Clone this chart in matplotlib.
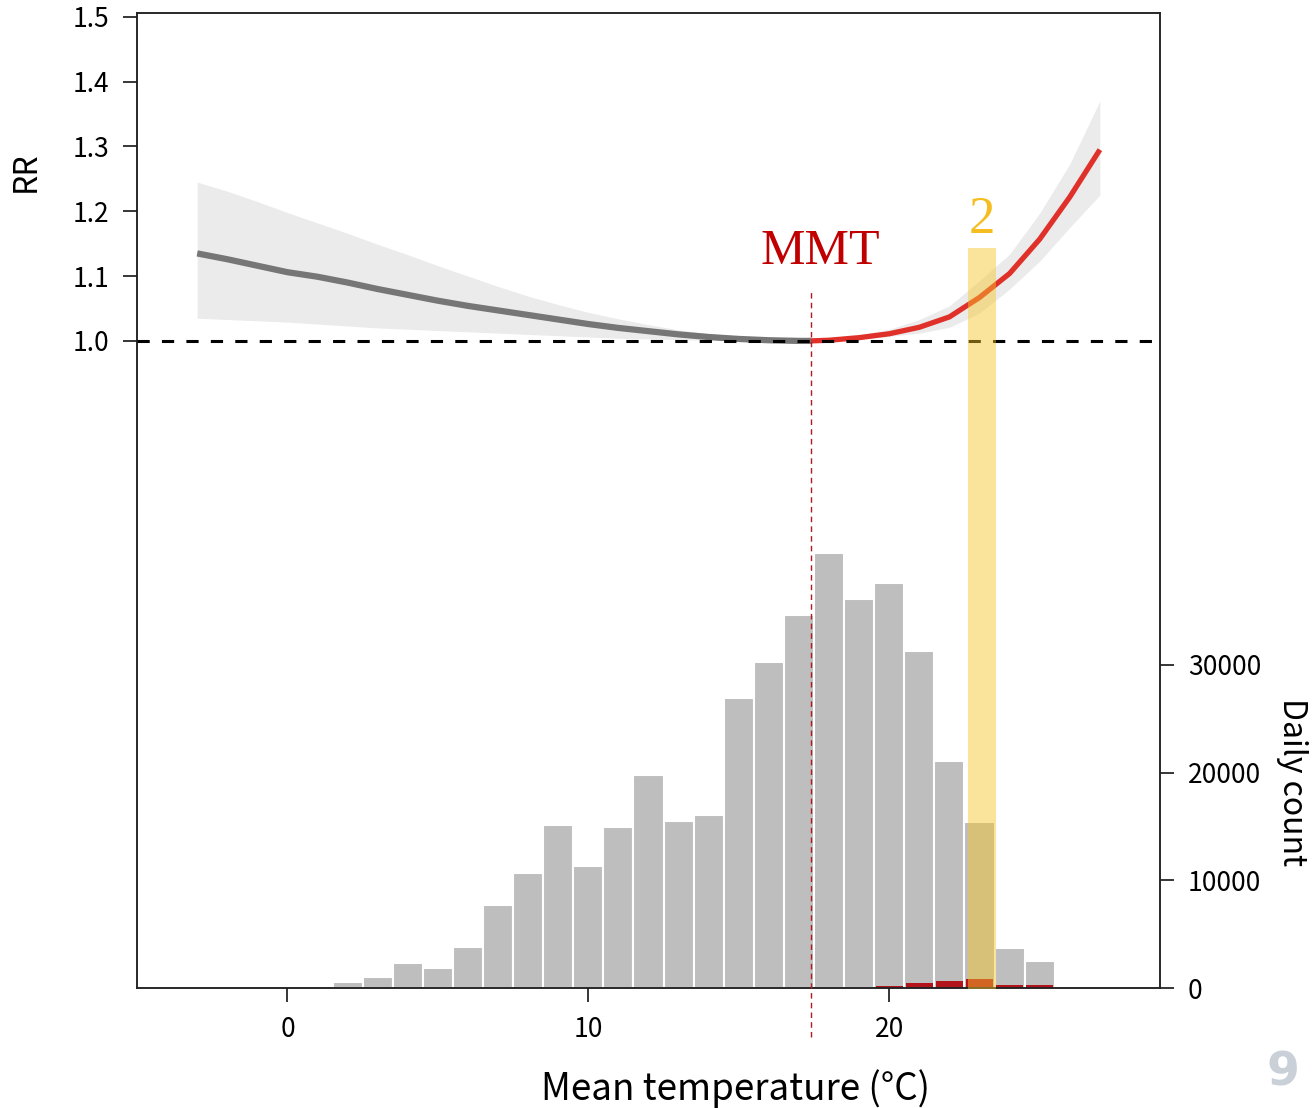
import matplotlib
matplotlib.use("Agg")
import matplotlib.pyplot as plt

plt.rcParams["font.family"] = ["Noto Sans CJK SC", "DejaVu Sans"]

# exposure-response curve (RR) with confidence band
temp = [-3, -2, -1, 0, 1, 2, 3, 4, 5, 6, 7, 8, 9, 10, 11, 12, 13, 14, 15, 16, 17, 17.4,
        18, 19, 20, 21, 22, 23, 24, 25, 26, 27]
rr = [1.135, 1.126, 1.116, 1.106, 1.099, 1.090, 1.080, 1.071, 1.062, 1.054, 1.047, 1.040,
      1.033, 1.026, 1.020, 1.015, 1.010, 1.006, 1.003, 1.001, 1.000, 1.000,
      1.001, 1.005, 1.011, 1.021, 1.037, 1.067, 1.104, 1.157, 1.222, 1.295]
rr_low = [1.035, 1.033, 1.031, 1.029, 1.026, 1.023, 1.020, 1.018, 1.016, 1.014, 1.012, 1.010,
          1.008, 1.006, 1.004, 1.003, 1.002, 1.001, 1.000, 1.000, 1.000, 1.000,
          1.000, 1.003, 1.007, 1.012, 1.021, 1.043, 1.080, 1.123, 1.175, 1.225]
rr_high = [1.245, 1.231, 1.215, 1.198, 1.182, 1.166, 1.149, 1.133, 1.116, 1.100, 1.084, 1.069,
           1.056, 1.044, 1.034, 1.025, 1.017, 1.011, 1.006, 1.003, 1.000, 1.000,
           1.002, 1.009, 1.018, 1.033, 1.054, 1.093, 1.134, 1.197, 1.273, 1.370]
mmt = 17.4

# daily count histogram
bins = list(range(1, 26))
counts = [200, 600, 1000, 2300, 1900, 3800, 7700, 10700, 15100, 11300, 14900, 19800, 15500,
          16100, 26900, 30300, 34600, 40400, 36100, 37600, 31300, 21100, 15400, 3700, 2500]
hot_bins = [20, 21, 22, 23, 24, 25]
hot_counts = [210, 490, 620, 840, 280, 250]

# highlighted band
band_x = (22.62, 23.55)
band_top = 1.143

fig = plt.figure(figsize=(13.16, 11.08), dpi=100)
ax = fig.add_axes([0.1041, 0.1083, 0.7774, 0.8800])
ax2 = ax.twinx()
ax.set_zorder(ax2.get_zorder() + 1)
ax.patch.set_visible(False)

# histogram on right axis
ax2.bar(bins, counts, width=1.0, color="#bebebe", edgecolor="white", linewidth=1.5)
ax2.bar(hot_bins, hot_counts, width=0.9, color="#b2141c", linewidth=0)
ax2.set_ylim(0, 90500)
ax2.set_yticks([0, 10000, 20000, 30000])
ax2.tick_params(axis="y", length=10, width=1.1, labelsize=19, pad=10)
ax2.set_ylabel("Daily count", fontsize=23, rotation=270, labelpad=0)
ax2.yaxis.set_label_coords(1.1447, 0.211)

# RR curve
ax.fill_between(temp, rr_low, rr_high, color="#ebebeb", linewidth=0)
i = temp.index(mmt)
ax.plot(temp[:i + 1], rr[:i + 1], color="#767676", lw=4.5, solid_capstyle="butt")
ax.plot(temp[i:], rr[i:], color="#e0302a", lw=3.8, solid_capstyle="butt")
ax.axhline(1.0, color="black", lw=2.2, ls=(0, (4, 4)), zorder=5)
ax.axvline(mmt, ymin=-0.05, ymax=(1.0756 - 0.0015) / 1.5045, color="#b3191f", lw=1.0,
           ls=(0, (4, 3)), clip_on=False, zorder=4)

ax.fill_between(band_x, 0, band_top, color="#f6c628", alpha=0.46, linewidth=0, zorder=6)
ax.text(sum(band_x) / 2, 1.167, "2", color="#f5bd1f", fontsize=38,
        family="Liberation Serif", ha="center", va="baseline")
ax.text(17.71, 1.119, "MMT", color="#c00000", fontsize=36,
        family="Liberation Serif", ha="center", va="baseline")

ax.set_xlim(-5, 29)
ax.set_ylim(0.0015, 1.506)
ax.set_yticks([1.0, 1.1, 1.2, 1.3, 1.4, 1.5])
ax.set_yticklabels(["1.0", "1.1", "1.2", "1.3", "1.4", "1.5"])
ax.set_xticks([0, 10, 20])
ax.tick_params(axis="both", length=10, width=1.1, labelsize=19, pad=10)
ax.set_ylabel("RR", fontsize=23)
ax.yaxis.set_label_coords(-0.0929, 0.837)
ax.set_xlabel("Mean temperature (°C)", fontsize=26.5)
ax.xaxis.set_label_coords(0.5855, -0.083)

for a in (ax, ax2):
    for s in a.spines.values():
        s.set_linewidth(1.1)
        s.set_color("#222222")

fig.text(0.9745, 0.032, "9", color="#c9d0d7", fontsize=34, fontweight="bold",
         family="DejaVu Sans", ha="center", va="center")

fig.savefig("out.png", dpi=100)
